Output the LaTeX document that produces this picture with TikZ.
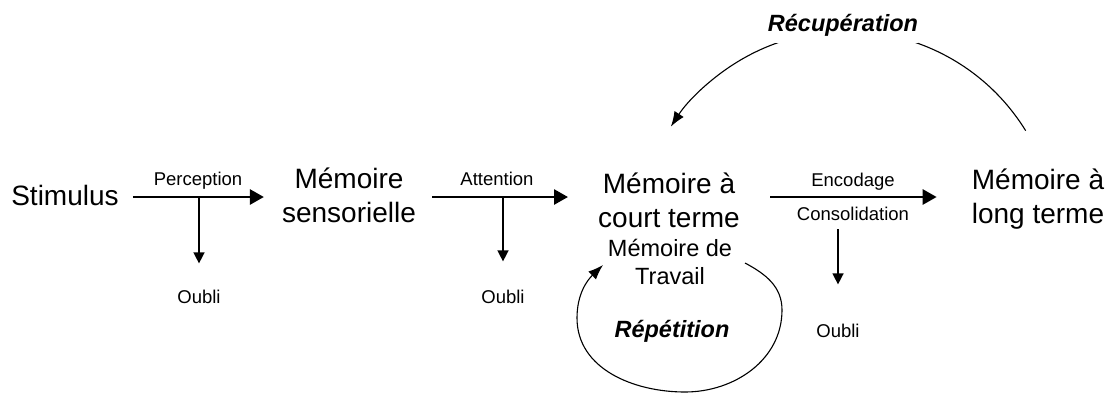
\documentclass[tikz,border=0pt]{standalone}
\usepackage{fontspec}
\setmainfont{Liberation Sans}
\usetikzlibrary{arrows.meta,calc}

\begin{document}
\begin{tikzpicture}[x=1pt,y=1pt,
    stage/.style={font=\fontsize{28}{34}\selectfont, align=center, inner sep=0pt},
    sub/.style={font=\fontsize{23.5}{27.5}\selectfont, align=center, inner sep=0pt},
    proc/.style={font=\fontsize{18.5}{22}\selectfont, inner sep=0pt},
    loopname/.style={font=\fontsize{23.5}{28}\selectfont\bfseries\itshape, inner sep=0pt},
    flow/.style={line width=2.7pt, -{Triangle[length=14pt,width=15pt]}},
    lost/.style={line width=1.4pt, -{Triangle[length=11pt,width=11pt]}},
    cycle/.style={line width=1.1pt, -{Latex[length=15pt,width=11pt]}}]

  \useasboundingbox (0,0) rectangle (1113,-397);

  % memory stages (anchor=base sits on the last line)
  \node[stage, anchor=base] (stim) at (65,-205) {Stimulus};
  \node[stage, anchor=base] (sens) at (349,-222) {Mémoire\\sensorielle};
  \node[stage, anchor=base] (stm)  at (669,-227) {Mémoire à\\court terme};
  \node[sub,   anchor=base] (wm)   at (670,-284) {Mémoire de\\Travail};
  \node[stage, anchor=base] (ltm)  at (1038,-223) {Mémoire à\\long terme};

  % main flow
  \coordinate (row) at (0,-197);
  \draw[flow] ($(stim.east |- row)+(14,0)$) -- ($(sens.west |- row)+(-18,0)$);
  \draw[flow] ($(sens.east |- row)+(16,0)$) -- ($(stm.west |- row)+(-30,0)$);
  \draw[flow] ($(stm.east |- row)+(30,0)$) -- ($(ltm.west |- row)+(-35,0)$);

  % process labels
  \node[proc, anchor=base] (perc) at (198,-185) {Perception};
  \node[proc, anchor=base] (att)  at (497,-185) {Attention};
  \node[proc, anchor=base] (enc)  at (853,-186) {Encodage};
  \node[proc, anchor=base] (cons) at (853,-220) {Consolidation};

  % forgetting
  \node[proc, anchor=base] (o1) at (199,-303) {Oubli};
  \node[proc, anchor=base] (o2) at (503,-303) {Oubli};
  \node[proc, anchor=base] (o3) at (838,-337) {Oubli};
  \draw[lost] (o1 |- row) -- ($(o1.north)+(0,26)$);
  \draw[lost] (o2 |- row) -- ($(o2.north)+(0,28)$);
  \draw[lost] ($(o3.north)+(0,94)$) -- ($(o3.north)+(0,39)$);

  % rehearsal loop
  \coordinate (ls) at (745,-263);
  \coordinate (le) at (603,-265);
  \draw[cycle] (ls) to[out=-28,in=90] (782,-310)
                    to[out=-90,in=0] (685,-392)
                    to[out=180,in=-90] (577,-318)
                    to[out=90,in=224] (le);
  \node[loopname, anchor=base] (rep) at (672,-337) {Répétition};

  % retrieval arc, broken by its label
  \coordinate (rc) at (847,-241);
  \coordinate (rs) at ($(rc)+(31.7:210)$);
  \draw[cycle] (rs) arc[start angle=31.7, end angle=147, radius=210];
  \node[loopname, anchor=base, fill=white, inner xsep=0pt, inner ysep=7pt] (rec) at (843,-31) {Récupération};
\end{tikzpicture}
\end{document}
